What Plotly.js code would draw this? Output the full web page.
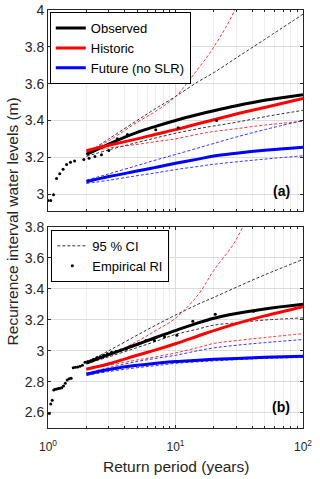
<!DOCTYPE html>
<html>
<head>
<meta charset="utf-8">
<script src="https://cdn.plot.ly/plotly-3.0.1.min.js"></script>
<style>
  body { margin: 0; background: #fff; }
  #chart { width: 320px; height: 479px; }
</style>
</head>
<body>
<div id="chart"></div>
<script>
const tFit = [2, 3, 5, 7, 10, 15, 20, 30, 50, 100];

// panel (a)
const obsA = [3.215, 3.272, 3.335, 3.368, 3.40, 3.432, 3.453, 3.48, 3.51, 3.54];
const obsAHi = [3.22, 3.30, 3.40, 3.465, 3.53, 3.61, 3.66, 3.74, 3.84, 3.977];
const obsALo = [3.205, 3.24, 3.28, 3.305, 3.33, 3.355, 3.37, 3.39, 3.42, 3.455];
const hisA = [3.235, 3.265, 3.30, 3.325, 3.35, 3.382, 3.404, 3.435, 3.47, 3.52];
const hisAHi = [3.225, 3.29, 3.39, 3.45, 3.53, 3.68, 3.80, 4.02, 4.5, 5.4];
const hisALo = [3.23, 3.25, 3.27, 3.285, 3.30, 3.325, 3.34, 3.355, 3.375, 3.395];
const futA = [3.067, 3.095, 3.125, 3.145, 3.167, 3.19, 3.207, 3.222, 3.238, 3.255];
const futAHi = [3.076, 3.11, 3.155, 3.185, 3.215, 3.25, 3.275, 3.31, 3.35, 3.40];
const futALo = [3.058, 3.075, 3.10, 3.115, 3.133, 3.15, 3.162, 3.175, 3.19, 3.208];

const empTA = [1.0, 1.05, 1.105, 1.167, 1.235, 1.313, 1.4, 1.5, 1.615, 1.909,
  2.1, 2.333, 2.625, 3.0, 3.5, 4.2, 5.25, 7.0, 10.5, 21];
const empVA = [2.965, 2.965, 2.996, 3.085, 3.11, 3.135, 3.16, 3.173, 3.18, 3.188,
  3.195, 3.204, 3.213, 3.237, 3.30, 3.323, 3.341, 3.35, 3.36, 3.40];

// panel (b)
const obsB = [2.92, 2.975, 3.04, 3.085, 3.13, 3.18, 3.21, 3.24, 3.27, 3.30];
const obsBHi = [2.925, 3.0, 3.10, 3.165, 3.23, 3.30, 3.345, 3.41, 3.49, 3.59];
const obsBLo = [2.915, 2.96, 3.02, 3.06, 3.105, 3.14, 3.165, 3.18, 3.198, 3.212];
const hisB = [2.88, 2.915, 2.97, 3.005, 3.045, 3.095, 3.13, 3.175, 3.225, 3.285];
const hisBHi = [2.92, 2.97, 3.06, 3.13, 3.21, 3.36, 3.52, 3.72, 4.15, 5.0];
const hisBLo = [2.885, 2.905, 2.94, 2.96, 2.985, 3.02, 3.047, 3.065, 3.085, 3.11];
const futB = [2.848, 2.878, 2.905, 2.918, 2.93, 2.938, 2.944, 2.95, 2.957, 2.964];
const futBHi = [2.855, 2.89, 2.93, 2.95, 2.97, 3.0, 3.018, 3.035, 3.052, 3.072];
const futBLo = [2.84, 2.865, 2.89, 2.903, 2.918, 2.928, 2.934, 2.942, 2.95, 2.956];

const empTB = [1.025, 1.051, 1.079, 1.108, 1.139, 1.171, 1.206, 1.242, 1.281, 1.323,
  1.367, 1.414, 1.464, 1.519, 1.577, 1.64, 1.708, 1.783, 1.864, 1.952,
  2.05, 2.158, 2.278, 2.412, 2.563, 2.733, 2.929, 3.154, 3.417, 3.727,
  4.1, 4.556, 5.125, 5.857, 6.833, 8.2, 10.25, 13.67, 20.5, 41];
const empVB = [2.594, 2.655, 2.68, 2.745, 2.75, 2.752, 2.755, 2.757, 2.76, 2.772,
  2.79, 2.81, 2.818, 2.822, 2.89, 2.893, 2.895, 2.9, 2.905, 2.925,
  2.93, 2.935, 2.945, 2.955, 2.96, 2.97, 2.98, 2.99, 2.995, 3.005,
  3.01, 3.03, 3.045, 3.065, 3.065, 3.09, 3.10, 3.19, 3.235, 3.255];

// log-axis ticks
const majorTicks = [1, 10, 100];
const majorText = ["10<sup>0</sup>", "10<sup>1</sup>", "10<sup>2</sup>"];
const minorTicks = [2, 3, 4, 5, 6, 7, 8, 9, 20, 30, 40, 50, 60, 70, 80, 90];

const BLACK = "#000000", RED = "#ff0000", BLUE = "#0000ff";
const FONT = "Liberation Sans, Arial, sans-serif";

function ci(y, color, xa, ya, extra) {
  return Object.assign({
    x: tFit, y: y, xaxis: xa, yaxis: ya, type: "scatter", mode: "lines",
    line: { color: color, width: 0.8, dash: "3px,2px", shape: "spline" },
    showlegend: false, hoverinfo: "skip",
  }, extra || {});
}

function fit(y, color, name, xa, ya, legend) {
  return {
    x: tFit, y: y, xaxis: xa, yaxis: ya, type: "scatter", mode: "lines",
    name: name, line: { color: color, width: 3, shape: "spline" },
    showlegend: legend, legend: "legend",
  };
}

function emp(tx, ty, xa, ya, legend) {
  return {
    x: tx, y: ty, xaxis: xa, yaxis: ya, type: "scatter", mode: "markers",
    name: "Empirical RI", marker: { color: BLACK, size: 3 },
    showlegend: legend, legend: "legend2", legendrank: 2,
  };
}

const traces = [
  // panel (a), top
  ci(obsAHi, BLACK, "x2", "y2"), ci(obsALo, BLACK, "x2", "y2"),
  ci(hisAHi, RED, "x2", "y2"), ci(hisALo, RED, "x2", "y2"),
  ci(futAHi, BLUE, "x2", "y2"), ci(futALo, BLUE, "x2", "y2"),
  fit(obsA, BLACK, "Observed", "x2", "y2", true),
  fit(hisA, RED, "Historic", "x2", "y2", true),
  fit(futA, BLUE, "Future (no SLR)", "x2", "y2", true),
  emp(empTA, empVA, "x2", "y2", false),
  // panel (b), bottom
  ci(obsBHi, BLACK, "x", "y", { showlegend: true, name: "95 % CI", legend: "legend2", legendrank: 1 }),
  ci(obsBLo, BLACK, "x", "y"),
  ci(hisBHi, RED, "x", "y"), ci(hisBLo, RED, "x", "y"),
  ci(futBHi, BLUE, "x", "y"), ci(futBLo, BLUE, "x", "y"),
  fit(obsB, BLACK, "Observed", "x", "y", false),
  fit(hisB, RED, "Historic", "x", "y", false),
  fit(futB, BLUE, "Future (no SLR)", "x", "y", false),
  emp(empTB, empVB, "x", "y", true),
];

const xBase = {
  type: "log", range: [0, 2],
  showline: true, mirror: "ticks", linecolor: "#262626", linewidth: 1,
  ticks: "inside", ticklen: 3, tickcolor: "#262626",
  showgrid: true, gridcolor: "#dcdcdc", zeroline: false,
  tickmode: "array", tickvals: majorTicks, ticktext: majorText,
  minor: {
    tickmode: "array", tickvals: minorTicks, showgrid: true, gridcolor: "#eeeeee",
    ticks: "inside", ticklen: 2, tickcolor: "#262626",
  },
  tickfont: { family: FONT, size: 12, color: "#262626" },
};

const yBase = {
  dtick: 0.2, tick0: 0,
  showline: true, mirror: "ticks", linecolor: "#262626", linewidth: 1,
  ticks: "inside", ticklen: 3, tickcolor: "#262626",
  showgrid: true, gridcolor: "#dcdcdc", zeroline: false,
  tickfont: { family: FONT, size: 14, color: "#262626" },
};

const legendBase = {
  bgcolor: "#ffffff", bordercolor: "#000000", borderwidth: 1,
  font: { family: FONT, size: 13, color: "#000000" },
  xanchor: "left", yanchor: "top", tracegroupgap: 0, itemwidth: 30,
};

const layout = {
  width: 320, height: 479,
  margin: { l: 48, r: 17, t: 10, b: 51 },
  paper_bgcolor: "#ffffff", plot_bgcolor: "#ffffff",
  font: { family: FONT, size: 13, color: "#262626" },
  xaxis: Object.assign({}, xBase, { anchor: "y", ticklabelstandoff: 8 }),
  yaxis: Object.assign({}, yBase, { domain: [0, 0.481], range: [2.5, 3.8] }),
  xaxis2: Object.assign({}, xBase, { anchor: "y2", matches: "x", showticklabels: false }),
  yaxis2: Object.assign({}, yBase, { domain: [0.52, 1], range: [2.91, 4.0] }),
  legend: Object.assign({}, legendBase, { x: 0.007, y: 0.995 }),
  legend2: Object.assign({}, legendBase, { x: 0.013, y: 0.474 }),
  annotations: [
    {
      text: "(a)", xref: "x2 domain", yref: "y2 domain", x: 0.957, y: 0.1,
      xanchor: "right", yanchor: "middle", showarrow: false,
      font: { family: FONT, size: 14, color: "#000000", weight: "bold" },
    },
    {
      text: "(b)", xref: "x domain", yref: "y domain", x: 0.957, y: 0.104,
      xanchor: "right", yanchor: "middle", showarrow: false,
      font: { family: FONT, size: 14, color: "#000000", weight: "bold" },
    },
    {
      text: "Recurrence interval water levels (m)", xref: "paper", yref: "paper",
      x: -0.14, y: 0.495, textangle: -90, showarrow: false,
      xanchor: "center", yanchor: "middle",
      font: { family: FONT, size: 15.5, color: "#262626" },
    },
    {
      text: "Return period (years)", xref: "paper", yref: "paper",
      x: 0.5, y: -0.093, showarrow: false, xanchor: "center", yanchor: "middle",
      font: { family: FONT, size: 15.5, color: "#262626" },
    },
  ],
};

Plotly.newPlot("chart", traces, layout, { displayModeBar: false, staticPlot: true });
</script>
</body>
</html>
